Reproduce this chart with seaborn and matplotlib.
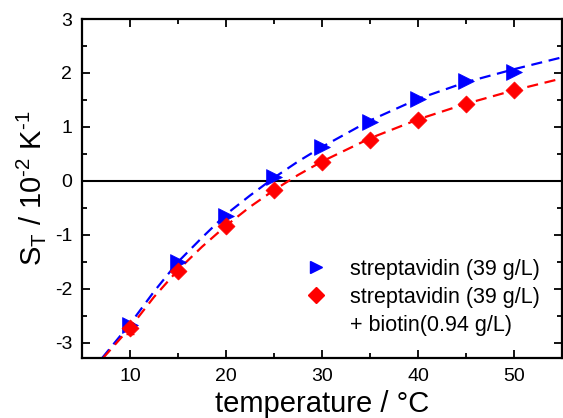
import matplotlib
matplotlib.use('Agg')
import matplotlib.pyplot as plt
from matplotlib.lines import Line2D
from matplotlib.ticker import MultipleLocator
import numpy as np
import pandas as pd
import seaborn as sns

# ==================== DATA ====================
temps = [10, 15, 20, 25, 30, 35, 40, 45, 50]
st_strep = [-2.67, -1.51, -0.64, 0.08, 0.63, 1.10, 1.52, 1.85, 2.02]
st_biotin = [-2.73, -1.67, -0.83, -0.17, 0.35, 0.76, 1.13, 1.43, 1.69]
err_biotin = [0.10, 0.05, 0.05, 0.05, 0.05, 0.05, 0.05, 0.05, 0.05]

# fitted curves
fit_t_strep = [7.1, 10, 12.5, 15, 17.5, 20, 22.5, 25, 27.5, 30, 35, 40, 45, 50, 55]
fit_strep = [-3.28, -2.65, -2.05, -1.50, -1.05, -0.62, -0.27, 0.06, 0.36, 0.63,
             1.12, 1.52, 1.83, 2.07, 2.29]
fit_t_biotin = [7.2, 10, 12.5, 15, 17.5, 20, 22.5, 25, 27.5, 30, 35, 40, 45, 50, 55]
fit_biotin = [-3.28, -2.72, -2.15, -1.65, -1.22, -0.83, -0.48, -0.17, 0.11, 0.36,
              0.79, 1.14, 1.43, 1.68, 1.90]

LABEL_STREP = 'streptavidin (39 g/L)'
LABEL_BIOTIN = 'streptavidin (39 g/L)'
LABEL_BIOTIN2 = '+ biotin(0.94 g/L)'

BLUE = '#0000ff'
RED = '#ff0000'

# ==================== PLOT ====================
sns.set_theme(style='ticks')
plt.rcParams['font.family'] = ['Liberation Sans', 'DejaVu Sans']
plt.rcParams['mathtext.fontset'] = 'custom'
plt.rcParams['mathtext.rm'] = 'Liberation Sans'
plt.rcParams['mathtext.it'] = 'Liberation Sans'
plt.rcParams['axes.unicode_minus'] = False
plt.rcParams['text.color'] = 'black'
plt.rcParams['axes.labelcolor'] = 'black'
plt.rcParams['xtick.labelcolor'] = 'black'
plt.rcParams['ytick.labelcolor'] = 'black'

fig = plt.figure(figsize=(5.63, 4.18), dpi=100)
ax = fig.add_axes([0.1456, 0.1435, 0.8526, 0.811])

ax.axhline(0, color='black', lw=1.5, zorder=1)

fit_df1 = pd.DataFrame({'T': fit_t_strep, 'S': fit_strep})
fit_df2 = pd.DataFrame({'T': fit_t_biotin, 'S': fit_biotin})
sns.lineplot(data=fit_df1, x='T', y='S', ax=ax, color=BLUE, lw=1.6,
             linestyle=(0, (5, 3)), zorder=2)
sns.lineplot(data=fit_df2, x='T', y='S', ax=ax, color=RED, lw=1.6,
             linestyle=(0, (5, 3)), zorder=2)

ax.errorbar(temps, st_biotin, yerr=err_biotin, fmt='none', ecolor=RED,
            elinewidth=1, capsize=3, zorder=3)

pts1 = pd.DataFrame({'T': temps, 'S': st_strep})
pts2 = pd.DataFrame({'T': temps, 'S': st_biotin})
sns.scatterplot(data=pts1, x='T', y='S', ax=ax, marker='>', s=130,
                color=BLUE, edgecolor=BLUE, linewidth=0.5, zorder=4)
sns.scatterplot(data=pts2, x='T', y='S', ax=ax, marker='D', s=75,
                color=RED, edgecolor=RED, linewidth=0.5, zorder=4)

ax.set_xlim(5, 55)
ax.set_ylim(-3.28, 3)
ax.xaxis.set_major_locator(MultipleLocator(10))
ax.xaxis.set_minor_locator(MultipleLocator(5))
ax.yaxis.set_major_locator(MultipleLocator(1))
ax.yaxis.set_minor_locator(MultipleLocator(0.5))
ax.tick_params(which='both', direction='in', top=True, right=True,
               labeltop=False, labelright=False, color='black', width=1.3)
ax.tick_params(which='major', length=6, labelsize=14, pad=7)
ax.tick_params(which='minor', length=3.5)
for sp in ax.spines.values():
    sp.set_color('black')
    sp.set_linewidth(1.6)

ax.set_xlabel('temperature / °C', fontsize=21, labelpad=4)
ax.set_ylabel(r'S$_\mathrm{T}$ / 10$^{\text{-2}}$ K$^{\text{-1}}$', fontsize=21, labelpad=5)

handles = [
    Line2D([], [], ls='none', marker='>', color=BLUE, markersize=9),
    Line2D([], [], ls='none', marker='D', color=RED, markersize=8),
    Line2D([], [], ls='none', marker=None),
]
ax.legend(handles, [LABEL_STREP, LABEL_BIOTIN, LABEL_BIOTIN2],
          loc='upper left', bbox_to_anchor=(0.46, 0.292), frameon=False,
          fontsize=15.5, handlelength=1.2, handletextpad=1.0,
          labelspacing=0.32, borderpad=0, borderaxespad=0)

fig.savefig('out.png', dpi=100)
